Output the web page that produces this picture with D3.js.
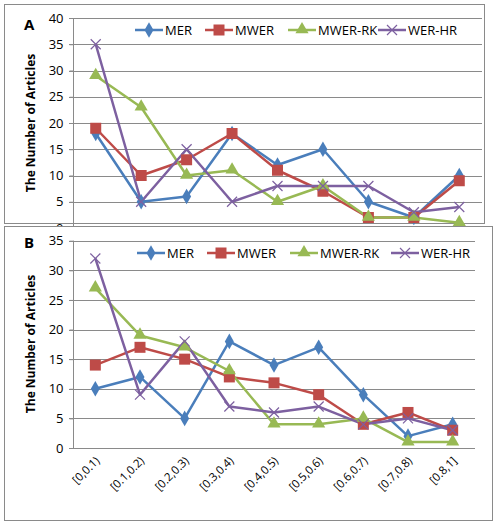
<!DOCTYPE html>
<html><head><meta charset="utf-8">
<script src="https://cdn.jsdelivr.net/npm/d3@7"></script>
<style>body{margin:0;background:#fff;} text{font-family:"Open Sans",sans-serif;}</style>
</head><body>
<svg id="c" width="498" height="525"></svg>
<script>
const categories = ["[0,0.1)","[0.1,0.2)","[0.2,0.3)","[0.3,0.4)","[0.4,0.5)","[0.5,0.6)","[0.6,0.7)","[0.7,0.8)","[0.8,1]"];
const seriesNames = ["MER","MWER","MWER-RK","WER-HR"];
const aMER    = [18,5,6,18,12,15,5,2,10];
const aMWER   = [19,10,13,18,11,7,2,2,9];
const aMWERRK = [29,23,10,11,5,8,2,2,1];
const aWERHR  = [35,5,15,5,8,8,8,3,4];
const bMER    = [10,12,5,18,14,17,9,2,4];
const bMWER   = [14,17,15,12,11,9,4,6,3];
const bMWERRK = [27,19,17,13,4,4,5,1,1];
const bWERHR  = [32,9,18,7,6,7,4,5,3];
const ticksA = [0,5,10,15,20,25,30,35,40];
const ticksB = [0,5,10,15,20,25,30,35];

const colors = ["#4A7EBB","#BE4B48","#98B954","#7D60A0"];
const markers = ["diamond","square","triangle","x"];
const svg = d3.select("#c");
svg.append("defs").append("clipPath").attr("id","clipA").append("rect").attr("x",0).attr("y",0).attr("width",498).attr("height",226);

function marker(g, type, x, y, color){
  if(type==="diamond"){
    g.append("path").attr("d", d3.symbol(d3.symbolDiamond, 70)()).attr("transform",`translate(${x},${y})`).attr("fill",color);
  } else if(type==="square"){
    g.append("rect").attr("x",x-5.5).attr("y",y-5.5).attr("width",11).attr("height",11).attr("fill",color);
  } else if(type==="triangle"){
    g.append("path").attr("d", d3.symbol(d3.symbolTriangle, 75)()).attr("transform",`translate(${x},${y-0.5})`).attr("fill",color);
  } else {
    g.append("path").attr("d",`M${x-5},${y-5}L${x+5},${y+5}M${x-5},${y+5}L${x+5},${y-5}`).attr("stroke",color).attr("stroke-width",1.2).attr("fill","none");
  }
}

function panel(cfg){
  const g = svg.append("g");
  if(cfg.clip) g.attr("clip-path",`url(#${cfg.clip})`);
  g.append("rect").attr("x",cfg.box[0]+0.5).attr("y",cfg.box[1]+0.5).attr("width",cfg.box[2]).attr("height",cfg.box[3])
    .attr("fill","#fff").attr("stroke","#8a8a8a").attr("stroke-width",1);
  const x = d3.scaleBand().domain(categories).range([cfg.x0,cfg.x1]).padding(0);
  const y = d3.scaleLinear().domain([0,d3.max(cfg.ticks)]).range([cfg.y0,cfg.y1]);
  const cx = d => x(d) + x.bandwidth()/2;
  g.selectAll(".grid").data(cfg.ticks.filter(t=>t>0)).enter().append("line")
    .attr("x1",cfg.x0-4).attr("x2",cfg.x1).attr("y1",d=>Math.round(y(d))+0.5).attr("y2",d=>Math.round(y(d))+0.5)
    .attr("stroke","#8a8a8a").attr("stroke-width",1);
  const ya = g.append("g").attr("transform",`translate(${cfg.x0+0.5},0)`)
    .call(d3.axisLeft(y).tickValues(cfg.ticks).tickSize(4).tickPadding(6).tickFormat(d3.format("d")));
  ya.select(".domain").attr("stroke","#8a8a8a").attr("d",`M-0,${cfg.y1}V${cfg.y0}`);
  ya.selectAll(".tick line").attr("stroke","#8a8a8a");
  ya.selectAll("text").attr("font-size",13).attr("fill","#000").style("font-family","'Open Sans',sans-serif");
  const xa = g.append("g").attr("transform",`translate(0,${Math.round(cfg.y0)+0.5})`)
    .call(d3.axisBottom(x).tickSize(0).tickFormat(cfg.showX ? (d=>d) : ""));
  xa.select(".domain").attr("stroke","#8a8a8a").attr("d",`M${cfg.x0-4},0H${cfg.x1}`);
  if(cfg.showX){
    xa.selectAll("text").attr("font-size",11.5).attr("fill","#000").style("font-family","'Open Sans',sans-serif")
      .attr("text-anchor","end").attr("dy",null).attr("y",null)
      .attr("transform","translate(5,13) rotate(-45)");
  } else {
    xa.selectAll("text").remove();
  }
  const line = d3.line().x((d,i)=>cx(categories[i])).y(d=>y(d));
  cfg.series.forEach((vals,si)=>{
    g.append("path").datum(vals).attr("d",line).attr("fill","none").attr("stroke",colors[si]).attr("stroke-width",2.5).attr("stroke-linejoin","round");
  });
  cfg.series.forEach((vals,si)=>{
    vals.forEach((v,i)=>marker(g,markers[si],cx(categories[i]),y(v),colors[si]));
  });
  seriesNames.forEach((n,si)=>{
    const lx = cfg.legendX[si], ly = cfg.legendY;
    g.append("line").attr("x1",lx).attr("x2",lx+28).attr("y1",ly).attr("y2",ly).attr("stroke",colors[si]).attr("stroke-width",2.5);
    marker(g,markers[si],lx+14,ly,colors[si]);
    g.append("text").attr("x",lx+30).attr("y",ly+4.5).attr("font-size",13).text(n);
  });
  g.append("text").attr("transform",`translate(${cfg.titleX},${cfg.titleY}) rotate(-90)`).attr("text-anchor","middle")
    .attr("font-size",12).attr("font-weight","bold").text("The Number of Articles");
  g.append("text").attr("x",24).attr("y",cfg.labelY).attr("font-size",15).attr("font-weight","bold").text(cfg.label);
  return g;
}

panel({box:[4,4,480,219], x0:73, x1:482, y0:228, y1:18, ticks:ticksA, series:[aMER,aMWER,aMWERRK,aWERHR],
  legendX:[135,205,288,378], legendY:30, titleX:35, titleY:123, label:"A", labelY:30, showX:false, clip:"clipA"});
panel({box:[4,226,488,294], x0:73, x1:475, y0:448, y1:240.7, ticks:ticksB, series:[bMER,bMWER,bMWERRK,bWERHR],
  legendX:[137,207,290,391], legendY:253, titleX:35, titleY:344, label:"B", labelY:248, showX:true});
</script>
</body></html>
